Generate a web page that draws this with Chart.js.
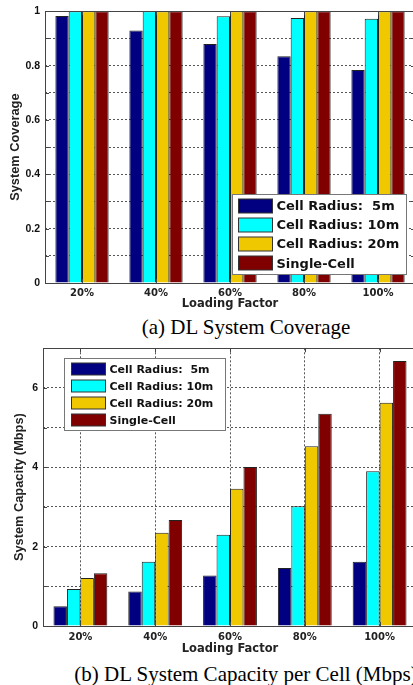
<!DOCTYPE html>
<html>
<head>
<meta charset="utf-8">
<script src="https://cdn.jsdelivr.net/npm/chart.js@4.4.1/dist/chart.umd.min.js"></script>
<style>
  html, body { margin: 0; padding: 0; background: #fff; }
  body { width: 413px; height: 685px; overflow: hidden; position: relative; }
  .box { position: absolute; left: 0; }
  .cap { position: absolute; left: -54px; width: 600px; text-align: center; white-space: nowrap;
         font-family: "Liberation Serif", "Times New Roman", serif; font-size: 21px; line-height: 21px; color: #000; }
</style>
</head>
<body>
<div class="box" style="top:0;"><canvas id="chartA" width="416" height="312"></canvas></div>
<div class="cap" style="top:317px;">(a) DL System Coverage</div>
<div class="box" style="top:337px;"><canvas id="chartB" width="418" height="322"></canvas></div>
<div class="cap" style="top:664px;">(b) DL System Capacity per Cell (Mbps)</div>
<script>
// ---- data ----
const categories = ['20%', '40%', '60%', '80%', '100%'];
const seriesNames = ['Cell Radius:  5m', 'Cell Radius: 10m', 'Cell Radius: 20m', 'Single-Cell'];
const seriesColors = ['#000080', '#00FFFF', '#F0C800', '#800000'];

const coverage5m     = [0.983, 0.929, 0.880, 0.835, 0.784];
const coverage10m    = [1.000, 1.000, 0.982, 0.975, 0.973];
const coverage20m    = [1.000, 1.000, 1.000, 1.000, 1.000];
const coverageSingle = [1.000, 1.000, 1.000, 1.000, 1.000];

const capacity5m     = [0.50, 0.87, 1.27, 1.46, 1.62];
const capacity10m    = [0.93, 1.62, 2.30, 3.02, 3.90];
const capacity20m    = [1.21, 2.35, 3.46, 4.53, 5.63];
const capacitySingle = [1.33, 2.67, 4.01, 5.35, 6.68];

const coverageTickLabels = ['0', '0.2', '0.4', '0.6', '0.8', '1'];
const capacityTickLabels = ['0', '2', '4', '6'];

// ---- plugins ----
const framePlugin = {
  id: 'frame',
  afterDatasetsDraw(chart) {
    const { ctx, chartArea: a, scales: { x, y } } = chart;
    ctx.save();
    ctx.strokeStyle = '#444';
    ctx.lineWidth = 1;
    ctx.beginPath();
    ctx.rect(Math.round(a.left) + 0.5, Math.round(a.top) + 0.5,
             Math.round(a.right - a.left), Math.round(a.bottom - a.top));
    ctx.stroke();
    ctx.beginPath();
    y.ticks.forEach((t, i) => {
      const py = Math.round(y.getPixelForTick(i)) + 0.5;
      ctx.moveTo(a.left, py); ctx.lineTo(a.left + 4, py);
      ctx.moveTo(a.right, py); ctx.lineTo(a.right - 4, py);
    });
    x.ticks.forEach((t, i) => {
      const px = Math.round(x.getPixelForTick(i)) + 0.5;
      ctx.moveTo(px, a.bottom); ctx.lineTo(px, a.bottom - 4);
      ctx.moveTo(px, a.top); ctx.lineTo(px, a.top + 4);
    });
    ctx.stroke();
    ctx.restore();
  }
};

const boxLegendPlugin = {
  id: 'boxLegend',
  afterDraw(chart, args, o) {
    const { ctx, chartArea: a } = chart;
    const bx = Math.round(a.left + o.dx) + 0.5, by = Math.round(a.top + o.dy) + 0.5;
    ctx.save();
    ctx.fillStyle = '#fff';
    ctx.strokeStyle = '#777';
    ctx.lineWidth = 1;
    ctx.fillRect(bx, by, o.w, o.h);
    ctx.strokeRect(bx, by, o.w, o.h);
    ctx.font = 'bold ' + o.fontSize + 'px "DejaVu Sans", sans-serif';
    ctx.textBaseline = 'middle';
    ctx.textAlign = 'left';
    chart.data.datasets.forEach((ds, i) => {
      const cy = by + o.first + i * o.row;
      ctx.fillStyle = ds.backgroundColor;
      ctx.fillRect(bx + o.sx, Math.round(cy - o.sh / 2), o.sw, o.sh);
      ctx.strokeStyle = '#333';
      ctx.strokeRect(bx + o.sx, Math.round(cy - o.sh / 2), o.sw, o.sh);
      ctx.fillStyle = '#111';
      ctx.fillText(ds.label, bx + o.sx + o.sw + 4, cy + 1);
    });
    ctx.restore();
  }
};

function makeDatasets(lists) {
  return lists.map((vals, i) => ({
    label: seriesNames[i],
    data: vals,
    backgroundColor: seriesColors[i],
    borderColor: '#222',
    borderWidth: 1,
    borderSkipped: 'bottom',
    categoryPercentage: 0.72,
    barPercentage: 1.0
  }));
}

function makeOptions(cfg) {
  return {
    responsive: false,
    animation: false,
    devicePixelRatio: 1,
    layout: { padding: { top: cfg.padTop, right: cfg.padRight, left: 0, bottom: 0 } },
    plugins: {
      legend: { display: false },
      tooltip: { enabled: false },
      boxLegend: cfg.legend
    },
    scales: {
      x: {
        offset: true,
        grid: { offset: false, color: '#555', lineWidth: 1, drawTicks: false },
        border: { display: false, dash: [2, 2] },
        ticks: { color: '#222', font: { family: '"DejaVu Sans", sans-serif', size: 10, weight: 'bold' }, padding: cfg.xTickPad, maxRotation: 0, autoSkip: false },
        title: { display: true, text: 'Loading Factor', color: '#222',
                 font: { family: '"DejaVu Sans", sans-serif', size: 11.5, weight: 'bold' },
                 padding: { top: 0, bottom: cfg.xTitlePadBottom } },
        afterFit(scale) { scale.height = cfg.xHeight; }
      },
      y: {
        min: 0, max: cfg.max,
        grid: { color: '#555', lineWidth: 1, drawTicks: false },
        border: { display: false, dash: [2, 2] },
        ticks: {
          stepSize: cfg.step, padding: 5, color: '#111',
          font: { family: '"Liberation Sans", Arial, sans-serif', size: 10.5, weight: 'bold' },
          callback: (v, i) => (i % 2 === 0 ? cfg.tickLabels[i / 2] : '')
        },
        title: { display: true, text: cfg.yTitle, color: '#222',
                 font: { family: '"Liberation Sans", Arial, sans-serif', size: 12.8, weight: 'bold' },
                 padding: { top: cfg.yTitlePad, bottom: 0 } },
        afterFit(scale) { scale.width = cfg.yWidth; }
      }
    }
  };
}

new Chart(document.getElementById('chartA'), {
  type: 'bar',
  data: { labels: categories, datasets: makeDatasets([coverage5m, coverage10m, coverage20m, coverageSingle]) },
  options: makeOptions({
    padTop: 10, padRight: 1, max: 1, step: 0.1, tickLabels: coverageTickLabels,
    yTitle: 'System Coverage', yTitlePad: 7.3, yWidth: 45, xHeight: 29, xTickPad: 4.5, xTitlePadBottom: 1,
    legend: { dx: 187, dy: 183, w: 174, h: 80, first: 11, row: 19.3, sx: 6, sw: 34, sh: 14, fontSize: 13 }
  }),
  plugins: [framePlugin, boxLegendPlugin]
});

new Chart(document.getElementById('chartB'), {
  type: 'bar',
  data: { labels: categories, datasets: makeDatasets([capacity5m, capacity10m, capacity20m, capacitySingle]) },
  options: makeOptions({
    padTop: 10, padRight: 1, max: 7, step: 1, tickLabels: capacityTickLabels,
    yTitle: 'System Capacity (Mbps)', yTitlePad: 11.8, yWidth: 43, xHeight: 33, xTickPad: 5.5, xTitlePadBottom: 3,
    legend: { dx: 21, dy: 10, w: 161, h: 72, first: 10.3, row: 17.2, sx: 7, sw: 34, sh: 12, fontSize: 11 }
  }),
  plugins: [framePlugin, boxLegendPlugin]
});
</script>
</body>
</html>
